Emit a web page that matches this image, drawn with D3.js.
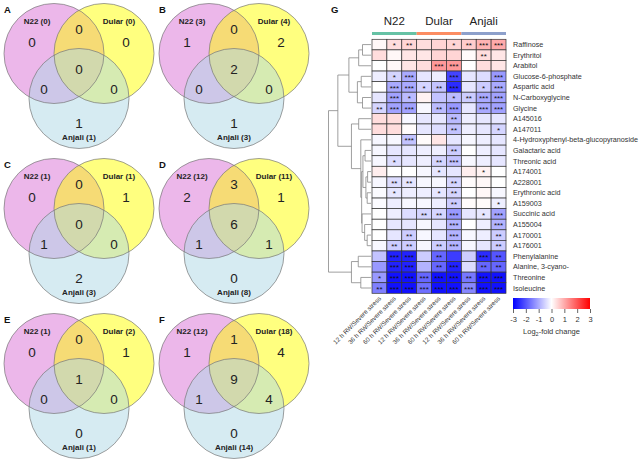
<!DOCTYPE html>
<html><head><meta charset="utf-8">
<script src="https://cdn.jsdelivr.net/npm/d3@7"></script>
<style>body{margin:0;background:#fff}svg{display:block;font-family:"Liberation Sans",Arial,sans-serif}</style>
</head><body><svg id="c" width="642" height="461"></svg>
<script>
// ---------- Venn data ----------
const vennPanels = ["A","B","C","D","E","F"];
const vennSets = ["N22","Dular","Anjali"];
const vennTotals = [[0,0,1],[3,4,3],[1,1,3],[12,11,8],[1,2,1],[12,18,14]];
// region order: N22 only, Dular only, Anjali only, N22∩Dular, N22∩Anjali, Dular∩Anjali, all three
const vennRegions = [
  [0,0,1,0,0,0,0],
  [1,2,1,0,0,0,2],
  [0,1,2,0,1,0,0],
  [2,1,0,3,1,1,6],
  [0,1,0,0,0,0,1],
  [1,4,0,1,1,4,9]
];
// ---------- Heatmap data ----------
const genotypes = ["N22","Dular","Anjali"];
const timepoints = ["12 h RW/Severe stress","36 h RW/Severe stress","60 h RW/Severe stress"];
const metabolites = ["Raffinose","Erythritol","Arabitol","Glucose-6-phosphate","Aspartic acid","N-Carboxyglycine","Glycine","A145016","A147011","4-Hydroxyphenyl-beta-glucopyranoside","Galactaric acid","Threonic acid","A174001","A228001","Erythronic acid","A159003","Succinic acid","A155004","A170001","A176001","Phenylalanine","Alanine, 3-cyano-","Threonine","Isoleucine"];
const logFC = [
  [0.1, 0.4, 0.5, 0.4, 0.5, 0.5, 0.6, 0.9, 1.0],
  [0.4, 0.1, 0.3, 0.3, 0.5, 0.5, 0.05, 0.4, 0.3],
  [0.0, 0.1, 0.3, 0.4, 1.2, 1.2, 0.0, 0.4, 0.3],
  [-0.2, -0.5, -1.0, -0.3, -0.2, -2.2, -0.3, -0.4, -1.2],
  [0.0, -1.0, -1.0, -0.5, -0.7, -2.5, -0.3, -0.6, -1.0],
  [-0.3, -1.1, -0.8, 0.15, -0.7, -0.8, -0.6, -1.0, -1.1],
  [-0.5, -1.1, -1.1, -0.1, -0.8, -1.2, -0.3, -1.0, -1.1],
  [0.4, 0.4, -0.1, -0.3, -0.3, -0.8, -0.2, -0.3, -0.3],
  [0.4, 0.4, 0.05, -0.3, -0.4, -0.7, -0.2, -0.3, -0.5],
  [-0.1, -0.1, -0.7, 0.05, 0.3, -0.3, -0.1, -0.2, -0.3],
  [-0.1, -0.3, -0.3, -0.2, -0.2, -0.6, 0.0, -0.2, -0.3],
  [-0.1, -0.4, -0.3, -0.2, -0.5, -0.7, -0.1, -0.2, -0.3],
  [0.2, 0.0, 0.0, -0.1, -0.3, -0.3, 0.2, 0.15, 0.0],
  [-0.1, -0.4, -0.3, -0.1, -0.1, -0.5, 0.05, 0.1, 0.0],
  [-0.05, -0.3, -0.2, -0.2, -0.3, -0.5, 0.0, 0.1, -0.1],
  [-0.05, -0.2, -0.1, -0.1, -0.2, -0.6, 0.05, 0.05, -0.2],
  [0.0, -0.2, -0.4, -0.5, -0.5, -1.2, -0.3, -0.3, -1.1],
  [0.0, -0.3, -0.3, -0.1, -0.3, -0.9, 0.0, -0.2, -0.9],
  [0.0, -0.3, -0.6, -0.1, -0.3, -0.9, -0.1, -0.2, -0.6],
  [-0.1, -0.6, -0.6, -0.1, -0.6, -0.9, -0.1, -0.3, -0.6],
  [-0.7, -2.6, -2.6, -0.6, -1.8, -2.3, -0.6, -2.5, -2.0],
  [-1.2, -2.6, -2.6, -0.9, -1.8, -2.6, -0.4, -1.8, -1.8],
  [-1.2, -2.8, -2.8, -1.8, -2.8, -2.8, -1.6, -2.8, -2.8],
  [-1.5, -2.8, -2.8, -1.7, -2.8, -2.8, -1.4, -2.8, -2.8]
];
const stars = [
  ["","*","**","","","*","**","***","***"],
  ["","","","","","","","**",""],
  ["","","","","***","***","","",""],
  ["","*","***","","","***","","","***"],
  ["","***","***","*","**","***","","*","***"],
  ["","***","*","","","*","**","***","***"],
  ["**","***","***","","**","***","","***","***"],
  ["","","","","","**","","",""],
  ["","","","","","**","","","*"],
  ["","","***","","","","","",""],
  ["","","","","","**","","",""],
  ["","*","","","**","***","","",""],
  ["","","","","*","","","*",""],
  ["","**","**","","","**","","",""],
  ["","*","","","*","**","","",""],
  ["","","","","","**","","","*"],
  ["","","","**","**","***","","*","***"],
  ["","","","","","***","","","***"],
  ["","","**","","","***","","","**"],
  ["","**","**","","**","***","","","**"],
  ["","***","***","","**","","","***","**"],
  ["","***","***","","**","***","","**","**"],
  ["*","***","***","***","***","***","**","***","***"],
  ["**","***","***","***","***","***","***","***","***"]
];
const legendTicks = [-3,-2,-1,0,1,2,3];
// dendrogram: [height, left, right], leaves = row index
const dendrogram = [10,
  [7.8,
    [5.2, [2.9, [2.0, 0, 1], 2], [3.2, [2.3, 3, 4], [2.0, 5, 6]]],
    [4.6, [2.9, 7, 8],
      [2.4, 9,
        [2.2,
          [1.9, [1.4, 10, 11], [1.2, [0.8, 12, 13], [0.9, 14, 15]]],
          [2.1, 16, [1.5, 17, [0.9, 18, 19]]]
        ]
      ]
    ]
  ],
  [4.6, [3.0, 20, 21], [2.4, 22, 23]]
];

const svg = d3.select("#c");

// ================= VENN PANELS =================
const vennColors = ["#da70d6","#ffff00","#add8e6"];
const R = 50;
const centers = [[54,53.5],[104,53.5],[79,98.5]];
const regionPos = [[32,42],[126,42],[79,123],[79,29],[44,89],[114,89],[79,69]];
const labelPos = [[37,21],[119,21],[79,137]];
vennPanels.forEach((p,i)=>{
  const ox = (i%2)*155, oy = Math.floor(i/2)*155;
  const g = svg.append("g").attr("transform",`translate(${ox},${oy})`);
  g.selectAll("circle.f").data(vennSets).join("circle")
    .attr("cx",(d,k)=>centers[k][0]).attr("cy",(d,k)=>centers[k][1]).attr("r",R)
    .attr("fill",(d,k)=>vennColors[k]).attr("fill-opacity",0.5);
  g.selectAll("circle.s").data(vennSets).join("circle").attr("class","s")
    .attr("cx",(d,k)=>centers[k][0]).attr("cy",(d,k)=>centers[k][1]).attr("r",R)
    .attr("fill","none").attr("stroke","#777").attr("stroke-width",0.7);
  g.selectAll("text.n").data(vennRegions[i]).join("text").attr("class","n")
    .attr("x",(d,k)=>regionPos[k][0]).attr("y",(d,k)=>regionPos[k][1]+4.8)
    .attr("text-anchor","middle").attr("font-size",13.5).attr("fill","#222").text(d=>d);
  g.selectAll("text.l").data(vennSets).join("text").attr("class","l")
    .attr("x",(d,k)=>labelPos[k][0]).attr("y",(d,k)=>labelPos[k][1]+2.8)
    .attr("text-anchor","middle").attr("font-size",8).attr("font-weight","bold").attr("fill","#222")
    .text((d,k)=>`${d} (${vennTotals[i][k]})`);
  g.append("text").attr("x",4).attr("y",12.5).attr("font-size",9.5).attr("font-weight","bold").attr("fill","#111").text(p);
});

// ================= HEATMAP =================
const cols = [];
genotypes.forEach(g=>timepoints.forEach(t=>cols.push(g+"|"+t)));
const x = d3.scaleBand().domain(cols).range([372,506]);
const y = d3.scaleBand().domain(d3.range(metabolites.length)).range([39.3,293.3]);
const color = d3.scaleLinear().domain([-3,0,3]).range(["#0000ff","#ffffff","#ff0000"]).clamp(true);

svg.append("text").attr("x",331).attr("y",12.5).attr("font-size",9.5).attr("font-weight","bold").attr("fill","#111").text("G");

const hm = svg.append("g");
const cells = [];
logFC.forEach((row,r)=>row.forEach((v,c)=>cells.push({r,c,v,s:stars[r][c]})));
hm.selectAll("rect").data(cells).join("rect")
  .attr("x",d=>x(cols[d.c])).attr("y",d=>y(d.r))
  .attr("width",x.bandwidth()).attr("height",y.bandwidth())
  .attr("fill",d=>color(d.v)).attr("stroke","#333").attr("stroke-width",0.7);
hm.selectAll("text").data(cells.filter(d=>d.s)).join("text")
  .attr("x",d=>x(cols[d.c])+x.bandwidth()/2).attr("y",d=>y(d.r)+y.bandwidth()/2+3.6)
  .attr("text-anchor","middle").attr("font-size",8).attr("fill","#111").text(d=>d.s);

// row labels
svg.append("g").selectAll("text").data(metabolites).join("text")
  .attr("x",513).attr("y",(d,i)=>y(i)+y.bandwidth()/2+2.5)
  .attr("font-size",7.2).attr("fill","#333").text(d=>d);

// group labels and bars
const groupColors = ["#66c2a5","#fc8d62","#8da0cb"];
genotypes.forEach((g,k)=>{
  const x0 = x(g+"|"+timepoints[0]), x1 = x(g+"|"+timepoints[2])+x.bandwidth();
  svg.append("rect").attr("x",x0).attr("y",32).attr("width",x1-x0).attr("height",3).attr("fill",groupColors[k]);
  svg.append("text").attr("x",(x0+x1)/2).attr("y",25).attr("text-anchor","middle")
    .attr("font-size",11.5).attr("fill","#222").text(g);
});

// column labels
svg.append("g").selectAll("text").data(cols).join("text")
  .attr("transform",d=>`translate(${x(d)+x.bandwidth()/2+2},${299}) rotate(-45)`)
  .attr("text-anchor","end").attr("font-size",6.3).attr("fill","#333")
  .text(d=>d.split("|")[1]);

// dendrogram
function toNode(t){ return Array.isArray(t) ? {h:t[0], children:[toNode(t[1]),toNode(t[2])]} : {h:0, leaf:t}; }
const root = d3.hierarchy(toNode(dendrogram));
const dx = d3.scaleLinear().domain([0,10]).range([371,328.5]);
root.eachAfter(n=>{
  n.py = n.children ? d3.mean(n.children,c=>c.py) : y(n.data.leaf)+y.bandwidth()/2;
  n.px = dx(n.data.h);
});
const segs = [];
root.each(n=>{
  if(!n.children) return;
  const [a,b] = n.children;
  segs.push([n.px,a.py,n.px,b.py]);
  n.children.forEach(c=>segs.push([n.px,c.py,c.px,c.py]));
});
svg.append("g").selectAll("line").data(segs).join("line")
  .attr("x1",d=>d[0]).attr("y1",d=>d[1]).attr("x2",d=>d[2]).attr("y2",d=>d[3])
  .attr("stroke","#888").attr("stroke-width",0.8);

// legend
const lx = d3.scaleLinear().domain([-3,3]).range([513,590]);
const grad = svg.append("defs").append("linearGradient").attr("id","lg");
legendTicks.forEach(t=>grad.append("stop").attr("offset",(t+3)/6).attr("stop-color",color(t)));
svg.append("rect").attr("x",513).attr("y",298).attr("width",77).attr("height",11).attr("fill","url(#lg)");
const ax = svg.append("g").attr("transform","translate(0,309)")
  .call(d3.axisBottom(lx).tickValues(legendTicks).tickSize(4).tickFormat(d=>String(d)));
ax.select(".domain").remove();
ax.selectAll("line").attr("stroke","#666");
ax.selectAll("text").attr("font-size",7.5).attr("fill","#333").attr("font-family","Liberation Sans, Arial, sans-serif").attr("dy","0.75em");
const lt = svg.append("text").attr("x",551.5).attr("y",334).attr("text-anchor","middle").attr("font-size",7.5).attr("fill","#333");
lt.append("tspan").text("Log");
lt.append("tspan").attr("font-size",5.5).attr("dy",2).text("2");
lt.append("tspan").attr("dy",-2).text("-fold change");
</script></body></html>
